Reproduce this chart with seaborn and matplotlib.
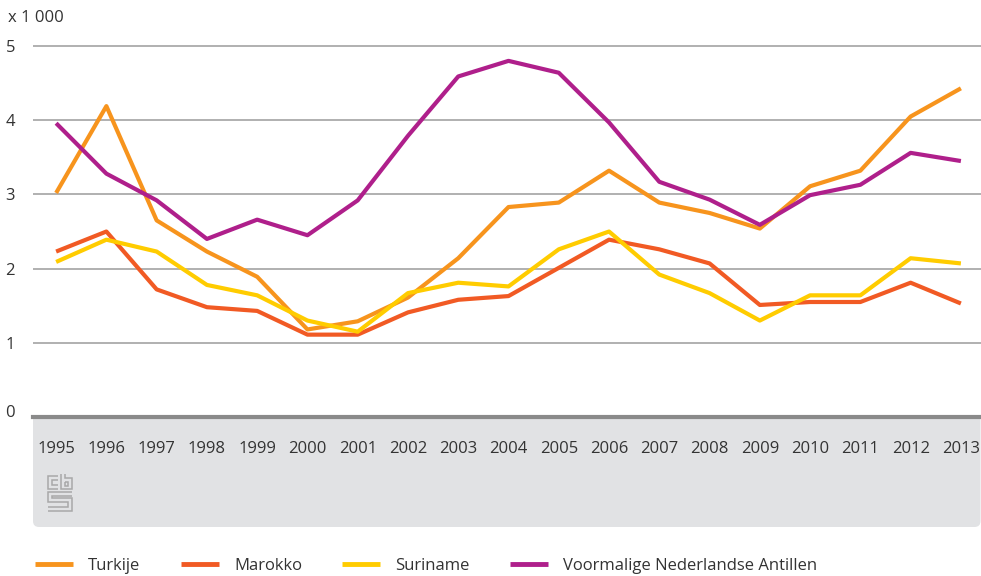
import matplotlib
matplotlib.use("Agg")
import matplotlib.pyplot as plt
from matplotlib.patches import FancyBboxPatch
from matplotlib.lines import Line2D
import pandas as pd
import seaborn as sns

years = list(range(1995, 2014))

turkije = [3.02, 4.19, 2.65, 2.23, 1.89, 1.18, 1.29, 1.61, 2.14, 2.83,
           2.89, 3.32, 2.89, 2.75, 2.54, 3.11, 3.32, 4.05, 4.43]
marokko = [2.23, 2.50, 1.72, 1.48, 1.43, 1.11, 1.11, 1.41, 1.58, 1.63,
           2.01, 2.39, 2.26, 2.07, 1.51, 1.55, 1.55, 1.81, 1.53]
suriname = [2.09, 2.39, 2.23, 1.78, 1.64, 1.30, 1.15, 1.67, 1.81, 1.76,
            2.26, 2.50, 1.92, 1.67, 1.30, 1.64, 1.64, 2.14, 2.07]
antillen = [3.96, 3.28, 2.92, 2.40, 2.66, 2.45, 2.92, 3.79, 4.59, 4.80,
            4.64, 3.97, 3.17, 2.93, 2.59, 2.99, 3.13, 3.56, 3.45]

series_names = ["Turkije", "Marokko", "Suriname", "Voormalige Nederlandse Antillen"]
series_values = [turkije, marokko, suriname, antillen]
series_colors = ["#F7941D", "#F15A24", "#FFCC00", "#AF1F8B"]

y_ticks = [0, 1, 2, 3, 4, 5]
unit_label = "x 1 000"

W, H = 981, 576
TEXT = "#333333"
GRID = "#a3a3a3"
AXIS = "#8a8a8a"
BAND = "#e1e2e4"


def fx(px):
    return px / W


def fy(py):
    return 1 - py / H


def build_frame() -> pd.DataFrame:
    rows = []
    for name, values in zip(series_names, series_values):
        for year, value in zip(years, values):
            rows.append({"jaar": year, "waarde": value, "herkomst": name})
    return pd.DataFrame(rows)


def draw_logo(fig):
    # simplified cbs logo, in pixel coordinates
    strokes = [
        [(58, 476), (48, 476), (48, 489), (58, 489)],
        [(58, 480), (52, 480), (52, 485), (58, 485)],
        [(61, 474), (61, 489), (72, 489), (72, 478), (65, 478), (65, 474)],
        [(65, 482), (68, 482), (68, 486), (65, 486), (65, 482)],
        [(72, 492), (48, 492), (48, 502), (68, 502), (68, 507), (48, 507)],
        [(72, 496), (52, 496), (52, 498), (72, 498), (72, 511), (48, 511)],
    ]
    for pts in strokes:
        xs = [fx(p[0]) for p in pts]
        ys = [fy(p[1]) for p in pts]
        fig.add_artist(Line2D(xs, ys, color="#a8a8a8", lw=1.1,
                              solid_joinstyle="miter", solid_capstyle="butt"))


def main() -> None:
    sns.set_theme(style="white")
    plt.rcParams["font.family"] = ["Open Sans", "DejaVu Sans"]

    frame = build_frame()
    palette = dict(zip(series_names, series_colors))

    fig = plt.figure(figsize=(W / 100, H / 100), dpi=100)
    fig.patch.set_facecolor("white")

    # grey band under the x axis
    band = FancyBboxPatch(
        (0.33, (H - 527) / 100), (W - 33) / 100 - 0.005, 1.3,
        boxstyle="round,pad=0,rounding_size=0.06",
        transform=fig.dpi_scale_trans, facecolor=BAND, edgecolor="none", zorder=-5,
    )
    fig.add_artist(band)

    ax = fig.add_axes([fx(33), fy(417), 1 - fx(33), (417 - 31.2) / H])
    ax.set_facecolor("white")

    sns.lineplot(
        data=frame, x="jaar", y="waarde", hue="herkomst", palette=palette,
        hue_order=series_names, linewidth=3, ax=ax, legend=True,
        solid_capstyle="butt",
    )
    handles, labels = ax.get_legend_handles_labels()
    ax.get_legend().remove()

    ax.set_xlim(1994.54, 2013.4)
    ax.set_ylim(0, 5.2)
    ax.set_yticks(y_ticks)
    ax.set_xticks(years)
    ax.set_xticklabels([str(y) for y in years])
    ax.set_xlabel("")
    ax.set_ylabel("")

    ax.grid(axis="y", color=GRID, linewidth=1.2)
    ax.grid(axis="x", visible=False)
    ax.set_axisbelow(True)

    for side in ["top", "right", "left"]:
        ax.spines[side].set_visible(False)
    ax.spines["bottom"].set_color(AXIS)
    ax.spines["bottom"].set_linewidth(3)

    ax.tick_params(axis="x", direction="out", length=6, width=1, color=AXIS,
                   pad=11, labelsize=12, labelcolor=TEXT)
    ax.tick_params(axis="y", length=0, pad=13, labelsize=12, labelcolor=TEXT)
    # the zero label sits a little above the axis line
    ax.get_yticklabels()[0].set_verticalalignment("baseline")

    fig.text(fx(8), fy(18), unit_label, fontsize=12, color=TEXT, va="center", ha="left")

    draw_logo(fig)

    leg = fig.legend(
        handles, labels, loc="center left", bbox_to_anchor=(fx(35), fy(566)),
        ncol=4, frameon=False, fontsize=12, handlelength=2.3, handletextpad=0.9,
        columnspacing=2.4, borderaxespad=0, borderpad=0,
    )
    for text in leg.get_texts():
        text.set_color(TEXT)
    for line in leg.get_lines():
        line.set_linewidth(3.5)

    fig.savefig("out.png", dpi=100)
    plt.close(fig)


if __name__ == "__main__":
    main()
